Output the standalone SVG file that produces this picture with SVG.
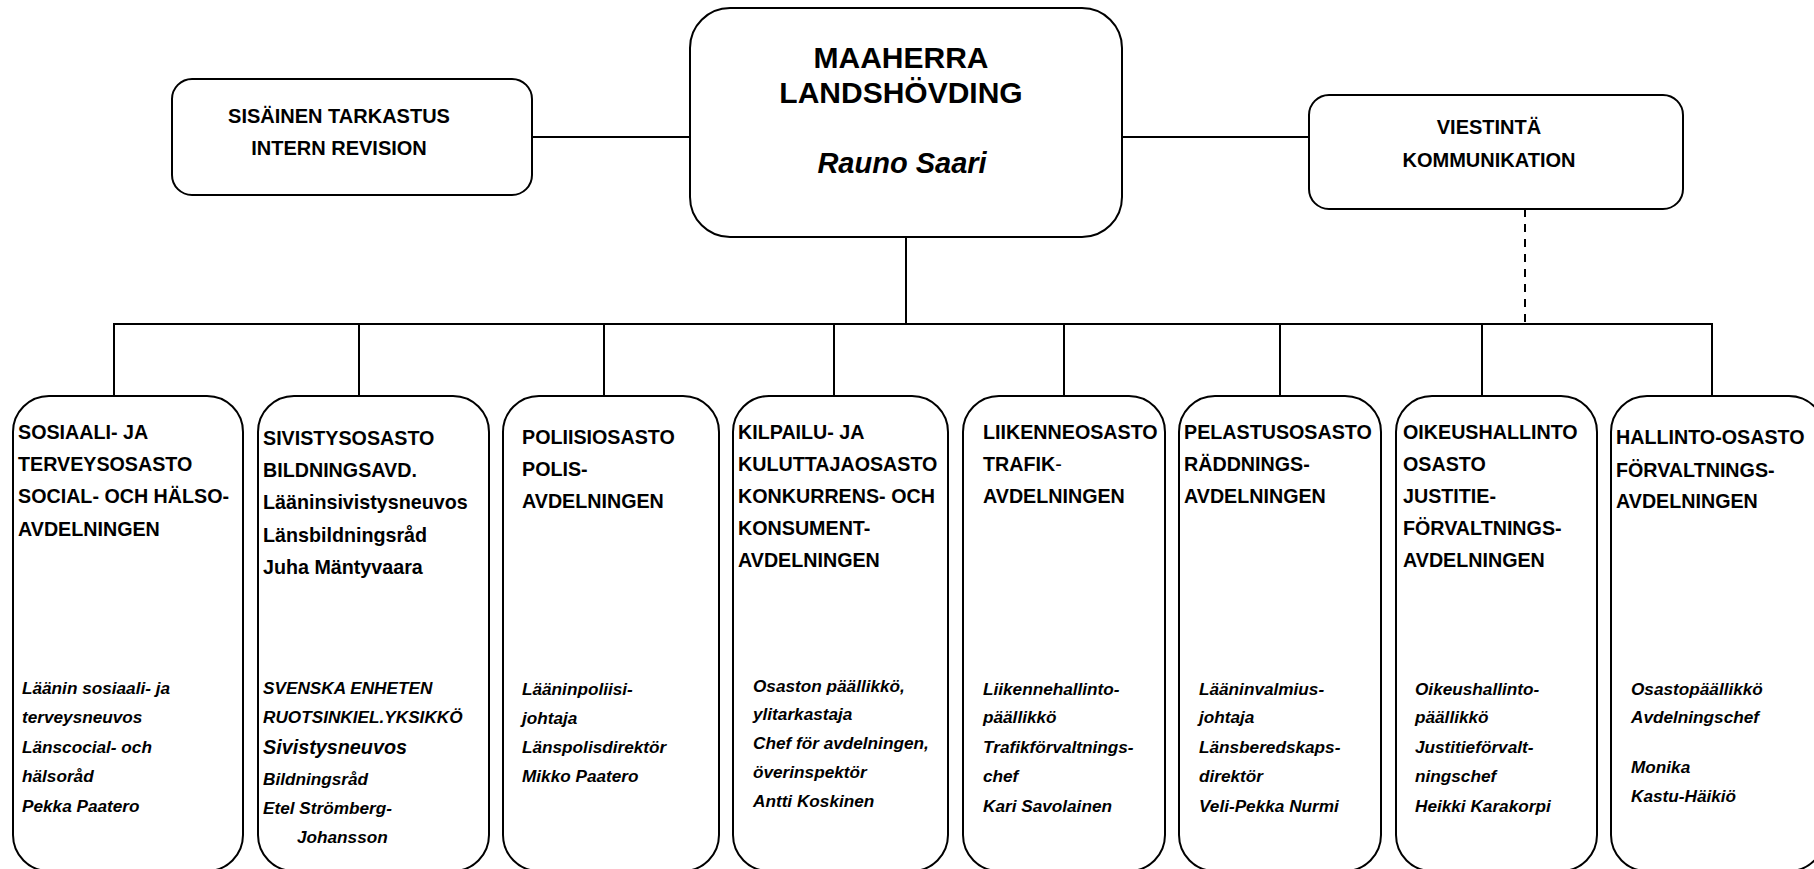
<svg xmlns="http://www.w3.org/2000/svg" width="1814" height="869" viewBox="0 0 1814 869">
<style>
text{font-family:"Liberation Sans",Arial,sans-serif;font-weight:bold;fill:#000}
.top{font-size:20px;text-anchor:middle}
.head{font-size:30px;text-anchor:middle}
.name{font-size:29px;font-style:italic;text-anchor:middle}
.d{font-size:19.7px}
.i{font-size:17.2px;font-style:italic}
.i20{font-size:19.8px;font-style:italic}
.box{fill:#fff;stroke:#000;stroke-width:2}
.ln{stroke:#000;stroke-width:2;fill:none}
.dash{stroke:#000;stroke-width:2;fill:none;stroke-dasharray:8 7}
</style>
<rect width="1814" height="869" fill="#fff"/>
<g id="connectors">
<line class="ln" x1="532" y1="137" x2="690" y2="137"/>
<line class="ln" x1="1122" y1="137" x2="1309" y2="137"/>
<line class="ln" x1="906" y1="237" x2="906" y2="324"/>
<line class="ln" x1="113" y1="324" x2="1713" y2="324"/>
<line class="ln" x1="114" y1="324" x2="114" y2="396"/>
<line class="ln" x1="359" y1="324" x2="359" y2="396"/>
<line class="ln" x1="604" y1="324" x2="604" y2="396"/>
<line class="ln" x1="834" y1="324" x2="834" y2="396"/>
<line class="ln" x1="1064" y1="324" x2="1064" y2="396"/>
<line class="ln" x1="1280" y1="324" x2="1280" y2="396"/>
<line class="ln" x1="1482" y1="324" x2="1482" y2="396"/>
<line class="ln" x1="1712" y1="324" x2="1712" y2="396"/>
<line class="dash" x1="1525" y1="209" x2="1525" y2="324"/>
</g>
<g id="sisainen">
<rect class="box" x="172" y="79" width="360" height="116" rx="20"/>
<text class="top" x="339" y="123">SISÄINEN TARKASTUS</text>
<text class="top" x="339" y="155">INTERN REVISION</text>
</g>
<g id="maaherra">
<rect class="box" x="690" y="8" width="432" height="229" rx="40"/>
<text class="head" x="901" y="68">MAAHERRA</text>
<text class="head" x="901" y="103">LANDSHÖVDING</text>
<text class="name" x="902" y="173">Rauno Saari</text>
</g>
<g id="viestinta">
<rect class="box" x="1309" y="95" width="374" height="114" rx="20"/>
<text class="top" x="1489" y="134">VIESTINTÄ</text>
<text class="top" x="1489" y="167">KOMMUNIKATION</text>
</g>
<g id="sosiaali">
<rect class="box" x="13" y="396" width="230" height="475" rx="36"/>
<text class="d" x="18" y="439">SOSIAALI- JA</text>
<text class="d" x="18" y="471">TERVEYSOSASTO</text>
<text class="d" x="18" y="503">SOCIAL- OCH HÄLSO-</text>
<text class="d" x="18" y="536">AVDELNINGEN</text>
<text class="i" x="22" y="694">Läänin sosiaali- ja</text>
<text class="i" x="22" y="723">terveysneuvos</text>
<text class="i" x="22" y="753">Länscocial- och</text>
<text class="i" x="22" y="782">hälsoråd</text>
<text class="i" x="22" y="812">Pekka Paatero</text>
</g>
<g id="sivistys">
<rect class="box" x="258" y="396" width="231" height="475" rx="36"/>
<text class="d" x="263" y="445">SIVISTYSOSASTO</text>
<text class="d" x="263" y="477">BILDNINGSAVD.</text>
<text class="d" x="263" y="509">Lääninsivistysneuvos</text>
<text class="d" x="263" y="542">Länsbildningsråd</text>
<text class="d" x="263" y="574">Juha Mäntyvaara</text>
<text class="i" x="263" y="694">SVENSKA ENHETEN</text>
<text class="i" x="263" y="723">RUOTSINKIEL.YKSIKKÖ</text>
<text class="i20" x="263" y="754">Sivistysneuvos</text>
<text class="i" x="263" y="785">Bildningsråd</text>
<text class="i" x="263" y="814">Etel Strömberg-</text>
<text class="i" x="297" y="843">Johansson</text>
</g>
<g id="poliisi">
<rect class="box" x="503" y="396" width="216" height="475" rx="36"/>
<text class="d" x="522" y="444">POLIISIOSASTO</text>
<text class="d" x="522" y="476">POLIS-</text>
<text class="d" x="522" y="508">AVDELNINGEN</text>
<text class="i" x="522" y="695">Lääninpoliisi-</text>
<text class="i" x="522" y="724">johtaja</text>
<text class="i" x="522" y="753">Länspolisdirektör</text>
<text class="i" x="522" y="782">Mikko Paatero</text>
</g>
<g id="kilpailu">
<rect class="box" x="733" y="396" width="215" height="475" rx="36"/>
<text class="d" x="738" y="439">KILPAILU- JA</text>
<text class="d" x="738" y="471">KULUTTAJAOSASTO</text>
<text class="d" x="738" y="503">KONKURRENS- OCH</text>
<text class="d" x="738" y="535">KONSUMENT-</text>
<text class="d" x="738" y="567">AVDELNINGEN</text>
<text class="i" x="753" y="692">Osaston päällikkö,</text>
<text class="i" x="753" y="720">ylitarkastaja</text>
<text class="i" x="753" y="749">Chef för avdelningen,</text>
<text class="i" x="753" y="778">överinspektör</text>
<text class="i" x="753" y="807">Antti Koskinen</text>
</g>
<g id="liikenne">
<rect class="box" x="963" y="396" width="202" height="475" rx="36"/>
<text class="d" x="983" y="439">LIIKENNEOSASTO</text>
<text class="d" x="983" y="471">TRAFIK<tspan font-weight="normal">-</tspan></text>
<text class="d" x="983" y="503">AVDELNINGEN</text>
<text class="i" x="983" y="695">Liikennehallinto-</text>
<text class="i" x="983" y="723">päällikkö</text>
<text class="i" x="983" y="753">Trafikförvaltnings-</text>
<text class="i" x="983" y="782">chef</text>
<text class="i" x="983" y="812">Kari Savolainen</text>
</g>
<g id="pelastus">
<rect class="box" x="1179" y="396" width="202" height="475" rx="36"/>
<text class="d" x="1184" y="439">PELASTUSOSASTO</text>
<text class="d" x="1184" y="471">RÄDDNINGS-</text>
<text class="d" x="1184" y="503">AVDELNINGEN</text>
<text class="i" x="1199" y="695">Lääninvalmius-</text>
<text class="i" x="1199" y="723">johtaja</text>
<text class="i" x="1199" y="753">Länsberedskaps-</text>
<text class="i" x="1199" y="782">direktör</text>
<text class="i" x="1199" y="812">Veli-Pekka Nurmi</text>
</g>
<g id="oikeus">
<rect class="box" x="1396" y="396" width="201" height="475" rx="36"/>
<text class="d" x="1403" y="439">OIKEUSHALLINTO</text>
<text class="d" x="1403" y="471">OSASTO</text>
<text class="d" x="1403" y="503">JUSTITIE-</text>
<text class="d" x="1403" y="535">FÖRVALTNINGS-</text>
<text class="d" x="1403" y="567">AVDELNINGEN</text>
<text class="i" x="1415" y="695">Oikeushallinto-</text>
<text class="i" x="1415" y="723">päällikkö</text>
<text class="i" x="1415" y="753">Justitieförvalt-</text>
<text class="i" x="1415" y="782">ningschef</text>
<text class="i" x="1415" y="812">Heikki Karakorpi</text>
</g>
<g id="hallinto">
<rect class="box" x="1611" y="396" width="214" height="475" rx="36"/>
<text class="d" x="1616" y="444">HALLINTO-OSASTO</text>
<text class="d" x="1616" y="477">FÖRVALTNINGS-</text>
<text class="d" x="1616" y="508">AVDELNINGEN</text>
<text class="i" x="1631" y="695">Osastopäällikkö</text>
<text class="i" x="1631" y="723">Avdelningschef</text>
<text class="i" x="1631" y="773">Monika</text>
<text class="i" x="1631" y="802">Kastu-Häikiö</text>
</g>
</svg>
